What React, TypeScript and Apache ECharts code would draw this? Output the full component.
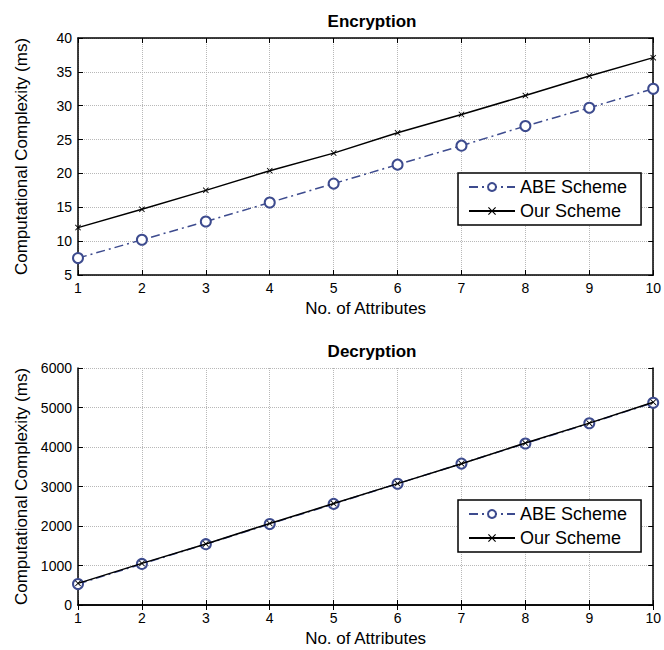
import React, { useEffect, useRef } from "react";
import * as echarts from "echarts";

const attributes = [1, 2, 3, 4, 5, 6, 7, 8, 9, 10];
const encABE = [7.5, 10.2, 12.9, 15.7, 18.5, 21.3, 24.1, 27.0, 29.7, 32.5];
const encOur = [12.0, 14.7, 17.5, 20.4, 23.0, 26.0, 28.7, 31.5, 34.4, 37.1];
const decABE = [530, 1040, 1540, 2050, 2560, 3070, 3580, 4090, 4600, 5120];
const decOur = [548, 1053, 1545, 2063, 2568, 3073, 3578, 4100, 4604, 5135];
const titles = ["Encryption", "Decryption"];
const seriesNames = ["ABE Scheme", "Our Scheme"];

const FONT = "'Liberation Sans', Arial, Helvetica, sans-serif";
const ABE_COLOR = "#3d4b8e";
const X_PATH = "path://M0,1L1,0L5,4L9,0L10,1L6,5L10,9L9,10L5,6L1,10L0,9L4,5Z";

export default function App() {
  const ref = useRef<HTMLDivElement>(null);
  useEffect(() => {
    document.body.style.margin = "0";
    if (!ref.current) return;
    const chart = echarts.init(ref.current, null, { renderer: "svg" });
    const grids = [
      { left: 78, width: 579, top: 38, height: 237 },
      { left: 78, width: 579, top: 368, height: 237 },
    ];
    const yRanges = [
      { min: 5, max: 40, interval: 5 },
      { min: 0, max: 6000, interval: 1000 },
    ];
    const frameLine = { show: true, lineStyle: { color: "#000", width: 1.5 } };
    const tickIn = { show: true, inside: true, length: 5, lineStyle: { color: "#000", width: 1 } };
    const splitDotted = { show: true, lineStyle: { color: "#b8b8b8", type: "dotted" as const, width: 1 } };
    const xAxes: any[] = [];
    const yAxes: any[] = [];
    grids.forEach((_, gi) => {
      xAxes.push({
        type: "value", gridIndex: gi, min: 1, max: 10, interval: 1, position: "bottom",
        axisLine: frameLine, axisTick: tickIn, splitLine: splitDotted,
        axisLabel: { color: "#000", fontSize: 14, fontFamily: FONT, margin: 6, formatter: (v: number) => String(v) },
        name: "No. of Attributes", nameLocation: "middle", nameGap: 25,
        nameTextStyle: { color: "#000", fontSize: 17, fontFamily: FONT },
      });
      xAxes.push({
        type: "value", gridIndex: gi, min: 1, max: 10, interval: 1, position: "top",
        axisLine: frameLine, axisTick: tickIn, splitLine: { show: false }, axisLabel: { show: false },
      });
      yAxes.push({
        type: "value", gridIndex: gi, ...yRanges[gi], position: "left",
        axisLine: frameLine, axisTick: tickIn, splitLine: splitDotted,
        axisLabel: { color: "#000", fontSize: 14, fontFamily: FONT, margin: 6, formatter: (v: number) => String(v) },
        name: "Computational Complexity (ms)", nameLocation: "middle", nameGap: 48, nameRotate: 90,
        nameTextStyle: { color: "#000", fontSize: 17, fontFamily: FONT },
      });
      yAxes.push({
        type: "value", gridIndex: gi, ...yRanges[gi], position: "right",
        axisLine: frameLine, axisTick: tickIn, splitLine: { show: false }, axisLabel: { show: false },
      });
    });
    const abeSeries = (data: number[], gi: number) => ({
      type: "line", name: seriesNames[0], xAxisIndex: gi * 2, yAxisIndex: gi * 2,
      data: attributes.map((x, i) => [x, data[i]]),
      symbol: "emptyCircle", symbolSize: 10,
      itemStyle: { color: ABE_COLOR, borderColor: ABE_COLOR, borderWidth: 1.5 },
      lineStyle: { color: ABE_COLOR, width: 1.5, type: [9, 4, 2, 4] },
      z: 2,
    });
    const ourSeries = (data: number[], gi: number) => ({
      type: "line", name: seriesNames[1], xAxisIndex: gi * 2, yAxisIndex: gi * 2,
      data: attributes.map((x, i) => [x, data[i]]),
      symbol: X_PATH, symbolSize: 6,
      itemStyle: { color: "#000" },
      lineStyle: { color: "#000", width: 1.5 },
      z: 3,
    });
    const legendBase = {
      orient: "vertical", left: 458, itemWidth: 46, itemHeight: 10, itemGap: 6,
      padding: [5, 14, 5, 10], borderColor: "#000", borderWidth: 1.5, backgroundColor: "#fff",
      data: seriesNames,
      textStyle: { color: "#000", fontSize: 18, fontFamily: FONT },
      z: 10,
    };
    chart.setOption({
      animation: false,
      backgroundColor: "#fff",
      title: titles.map((t, i) => ({
        text: t, left: 367, top: i === 0 ? 8 : 338, textAlign: "center",
        textStyle: { color: "#000", fontSize: 17, fontWeight: "bold", fontFamily: FONT },
      })),
      grid: grids,
      xAxis: xAxes,
      yAxis: yAxes,
      legend: [
        { ...legendBase, top: 173 },
        { ...legendBase, top: 500 },
      ],
      series: [abeSeries(encABE, 0), ourSeries(encOur, 0), abeSeries(decABE, 1), ourSeries(decOur, 1)],
    });
    return () => chart.dispose();
  }, []);
  return <div ref={ref} style={{ position: "absolute", left: 0, top: 0, width: 664, height: 650 }} />;
}
